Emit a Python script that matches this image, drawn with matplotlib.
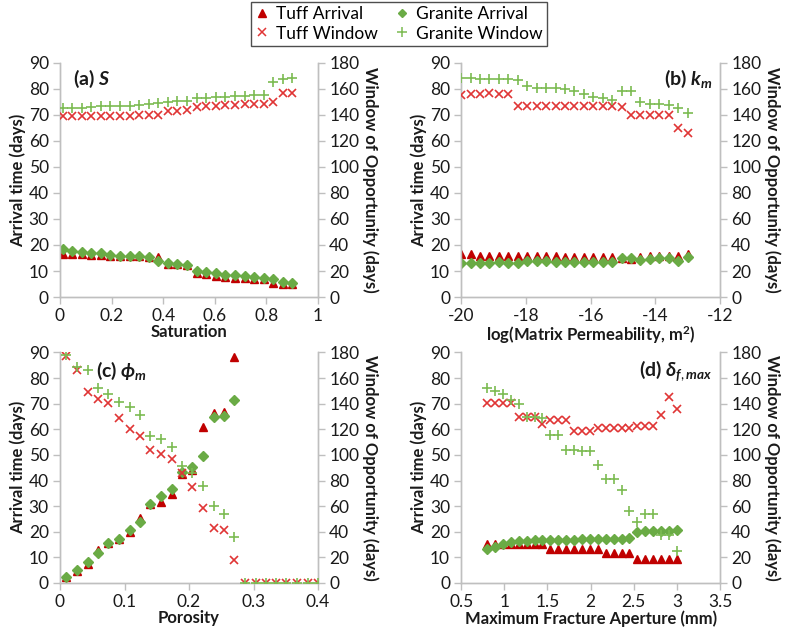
import numpy as np
import matplotlib
matplotlib.use("Agg")
import matplotlib.pyplot as plt
from matplotlib.lines import Line2D

plt.rcParams['font.family'] = ['Lato', 'DejaVu Sans']
plt.rcParams['mathtext.fontset'] = 'custom'
plt.rcParams['mathtext.rm'] = 'Lato'
plt.rcParams['mathtext.it'] = 'Lato:italic:bold'
plt.rcParams['mathtext.bf'] = 'Lato:bold'

nan = np.nan

# ---------------- data ----------------
x_sat = [0.010, 0.047, 0.084, 0.121, 0.158, 0.195, 0.233, 0.270, 0.307, 0.344, 0.381, 0.418, 0.455,
         0.492, 0.529, 0.566, 0.603, 0.640, 0.678, 0.715, 0.752, 0.789, 0.826, 0.863, 0.900]
tuff_arr_a = [16.7, 16.6, 16.4, 16.1, 16.0, 15.8, 15.7, 15.7, 15.6, 15.4, 15.5, 12.8, 12.6, 12.2,
              9.1, 9.0, 8.2, 7.6, 7.5, 7.2, 7.1, 7.0, 5.4, 5.1, 5.0]
gran_arr_a = [18.6, 17.8, 17.2, 16.9, 16.8, 16.2, 15.9, 15.9, 15.9, 15.3, 13.9, 13.2, 12.8, 12.4,
              10.0, 9.6, 9.2, 8.6, 8.3, 7.9, 7.6, 7.2, 6.8, 5.8, 5.5]
tuff_win_a = [139, 139, 139, 139.5, 139.5, 139.5, 139.5, 139.5, 140, 140, 140, 143, 143, 143.5,
              146, 146.5, 147, 147.5, 147.5, 148, 148, 148.5, 150, 157, 157]
gran_win_a = [144.9, 145.6, 145.6, 146.2, 146.7, 146.7, 147.0, 147.0, 147.4, 148.2, 149.2, 149.5,
              150.3, 150.8, 152.6, 153.3, 153.8, 153.8, 154.4, 154.6, 155.1, 155.6, 164.9, 167.2, 168.0]

x_perm = [-20.0, -19.71, -19.42, -19.13, -18.83, -18.54, -18.25, -17.96, -17.67, -17.38, -17.08,
          -16.79, -16.5, -16.21, -15.92, -15.63, -15.33, -15.04, -14.75, -14.46, -14.17, -13.88,
          -13.58, -13.29, -13.0]
tuff_arr_b = [16.5, 16.5, 15.9, 15.8, 15.8, 15.8, 15.8, 15.8, 15.8, 15.8, 15.8, 15.5, 15.5, 15.5,
              15.5, 15.5, 15.5, 15.1, 14.8, 15.2, 15.7, 15.8, 15.8, 15.8, 16.5]
gran_arr_b = [13.2, 13.1, 13.2, 13.2, 13.5, 13.2, 13.2, 13.7, 13.7, 13.7, 13.6, 13.5, 13.5, 13.5,
              13.5, 13.5, 13.5, 15.1, 14.9, 14.2, 14.6, 15.0, 15.0, 14.0, 15.4]
tuff_win_b = [155, 155.7, 155.7, 156.5, 155.7, 155.7, 146.5, 146.5, 146.5, 146.5, 146.5, 146.5,
              146.5, 146.5, 146.5, 146.5, 146.5, 146.2, 139.8, 139.8, 139.8, 139.8, 139.8, 130, 125.7]
gran_win_b = [168.5, 168.5, 167.2, 167.2, 167.2, 167.2, 166.7, 162.3, 160.3, 160.3, 160.3, 159.8,
              158.5, 155.7, 153.8, 152.6, 151.3, 158.2, 158.2, 149.5, 148.7, 148.0, 147.4, 144.9, 141.5]

x_por = [0.010, 0.026, 0.043, 0.059, 0.075, 0.091, 0.108, 0.124, 0.140, 0.156, 0.173, 0.189, 0.205,
         0.221, 0.238, 0.254, 0.270, 0.286, 0.303, 0.319, 0.335, 0.351, 0.368, 0.384, 0.400]
tuff_arr_c = [2.3, 4.7, 7.3, 12.8, 15.7, 17.0, 19.8, 25.5, 30.8, 31.6, 34.6, 42.5, 44.3, 60.8,
              66.3, 66.9, 88.2, nan, nan, nan, nan, nan, nan, nan, nan]
gran_arr_c = [2.3, 5.2, 8.2, 11.7, 15.7, 17.3, 20.6, 23.9, 31.0, 34.0, 36.7, 43.4, 45.4, 49.6,
              64.7, 65.2, 71.5, nan, nan, nan, nan, nan, nan, nan, nan]
tuff_win_c = [177.4, 166, 149, 143.5, 140.4, 128.6, 120, 114.8, 103.8, 100.7, 97, 85.6, 74.6,
              58.2, 43.3, 41.7, 17.7, 0, 0, 0, 0, 0, 0, 0, 0]
gran_win_c = [178, 169, 166, 152, 147.7, 141.7, 137.2, 131.2, 114.8, 112.2, 106.4, 91.3, 86.1,
              75.7, 60, 53.7, 36, 0, 0, 0, 0, 0, 0, 0, 0]

x_ap = [0.800, 0.892, 0.983, 1.075, 1.167, 1.258, 1.350, 1.442, 1.533, 1.625, 1.717, 1.808, 1.900,
        1.992, 2.083, 2.175, 2.267, 2.358, 2.450, 2.542, 2.633, 2.725, 2.817, 2.908, 3.000]
tuff_arr_d = [15.4, 15.4, 15.4, 15.4, 15.4, 15.4, 15.4, 15.4, 13.1, 13.1, 13.1, 13.1, 13.1, 13.1,
              13.1, 11.6, 11.6, 11.6, 11.6, 9.3, 9.3, 9.3, 9.3, 9.3, 9.3]
gran_arr_d = [13.2, 14.1, 15.4, 15.9, 16.2, 16.4, 16.6, 16.7, 16.8, 16.9, 16.9, 16.9, 17.0, 17.0,
              17.0, 17.0, 17.0, 17.0, 17.4, 19.9, 20.1, 20.3, 20.3, 20.4, 20.6]
tuff_win_d = [140.9, 140.9, 140.9, 140.9, 129.3, 129.3, 129.3, 123.9, 127.2, 127.2, 127.2, 118.8,
              118.8, 118.8, 120.8, 120.8, 120.8, 120.8, 120.8, 122.6, 122.6, 122.6, 131.1, 145.2, 136.2]
gran_win_d = [152.2, 149.6, 147.8, 142.7, 140.1, 129.8, 129.8, 129.0, 115.7, 115.7, 104.1, 104.1,
              103.3, 102.8, 92.5, 80.9, 80.9, 72.5, 56.6, 47.6, 53.5, 53.5, 37.3, 37.3, 25.2]

# ---------------- style ----------------
C_TA = '#C00000'
C_TW = '#E03535'
C_GA = '#6AAB45'
C_GW = '#7CBB52'
AX_C = '#BFBFBF'
TXT = '#1a1a1a'

fig = plt.figure(figsize=(7.87, 6.28), dpi=100)

panels = [
    dict(rect=[0.0762, 0.527, 0.328, 0.373], x=x_sat, ta=tuff_arr_a, ga=gran_arr_a, tw=tuff_win_a,
         gw=gran_win_a, xlim=(0, 1), xticks=[0, 0.2, 0.4, 0.6, 0.8, 1], xtl=['0', '0.2', '0.4', '0.6', '0.8', '1'],
         xlabel='Saturation', label=r'(a) $\mathit{S}$', lpos=(0.05, 0.93), ha='left'),
    dict(rect=[0.586, 0.527, 0.329, 0.373], x=x_perm, ta=tuff_arr_b, ga=gran_arr_b, tw=tuff_win_b,
         gw=gran_win_b, xlim=(-20, -12), xticks=[-20, -18, -16, -14, -12],
         xtl=['-20', '-18', '-16', '-14', '-12'],
         xlabel=r'log(Matrix Permeability, m$^\mathbf{2}$)', label=r'(b) $\mathit{k_m}$', lpos=(0.97, 0.93), ha='right'),
    dict(rect=[0.0762, 0.0717, 0.328, 0.367], x=x_por, ta=tuff_arr_c, ga=gran_arr_c, tw=tuff_win_c,
         gw=gran_win_c, xlim=(0, 0.4), xticks=[0, 0.1, 0.2, 0.3, 0.4], xtl=['0', '0.1', '0.2', '0.3', '0.4'],
         xlabel='Porosity', label=r'(c) $\phi_m$', lpos=(0.14, 0.92), ha='left'),
    dict(rect=[0.586, 0.0717, 0.329, 0.367], x=x_ap, ta=tuff_arr_d, ga=gran_arr_d, tw=tuff_win_d,
         gw=gran_win_d, xlim=(0.5, 3.5), xticks=[0.5, 1, 1.5, 2, 2.5, 3, 3.5],
         xtl=['0.5', '1', '1.5', '2', '2.5', '3', '3.5'],
         xlabel='Maximum Fracture Aperture (mm)', label=r'(d) $\mathit{\delta_{f,max}}$', lpos=(0.97, 0.92), ha='right'),
]

for p in panels:
    ax = fig.add_axes(p['rect'])
    ax2 = ax.twinx()
    ax.plot(p['x'], p['ta'], ls='none', marker='^', ms=6, color=C_TA, mec=C_TA, zorder=3)
    ax.plot(p['x'], p['ga'], ls='none', marker='D', ms=4.8, color=C_GA, mec=C_GA, zorder=4)
    ax2.plot(p['x'], p['tw'], ls='none', marker='x', ms=5.5, mew=1.2, color=C_TW, zorder=3)
    ax2.plot(p['x'], p['gw'], ls='none', marker='+', ms=6.8, mew=1.2, color=C_GW, zorder=4)
    ax.set_xlim(*p['xlim'])
    ax.set_ylim(0, 90)
    ax2.set_ylim(0, 180)
    ax.set_yticks(range(0, 91, 10))
    ax2.set_yticks(range(0, 181, 20))
    ax.set_xticks(p['xticks'])
    ax.set_xticklabels(p['xtl'])
    for a in (ax, ax2):
        a.spines['top'].set_visible(False)
        for s in ('left', 'right', 'bottom'):
            a.spines[s].set_color(AX_C)
            a.spines[s].set_linewidth(1.0)
        a.tick_params(axis='both', direction='out', length=5, width=1.0, color=AX_C,
                      labelsize=12.5, labelcolor=TXT, pad=3)
    ax.set_xlabel(p['xlabel'], fontsize=12, fontweight='bold', color=TXT, labelpad=0)
    ax.set_ylabel('Arrival time (days)', fontsize=12, fontweight='bold', color=TXT, labelpad=2)
    ax2.set_ylabel('Window of Opportunity (days)', fontsize=12, fontweight='bold', color=TXT,
                   rotation=-90, labelpad=14)
    ax.text(p['lpos'][0], p['lpos'][1], p['label'], transform=ax.transAxes, fontsize=14,
            fontweight='bold', ha=p['ha'], va='center', color=TXT)

handles = [
    Line2D([], [], ls='none', marker='^', ms=5.5, color=C_TA),
    Line2D([], [], ls='none', marker='x', ms=5.5, mew=1.1, color=C_TW),
    Line2D([], [], ls='none', marker='D', ms=4.2, color=C_GA),
    Line2D([], [], ls='none', marker='+', ms=6.5, mew=1.1, color=C_GW),
]
labels = ['Tuff Arrival', 'Tuff Window', 'Granite Arrival', 'Granite Window']
leg = fig.legend(handles, labels, ncol=2, loc='upper center', bbox_to_anchor=(0.507, 1.0),
                 fontsize=12.5, frameon=True, fancybox=False, edgecolor='#222222',
                 handlelength=0.8, handletextpad=0.4, columnspacing=1.0, borderpad=0.25,
                 labelspacing=0.2, borderaxespad=0.1)
leg.get_frame().set_linewidth(1.0)

fig.savefig('out.png', dpi=100)
